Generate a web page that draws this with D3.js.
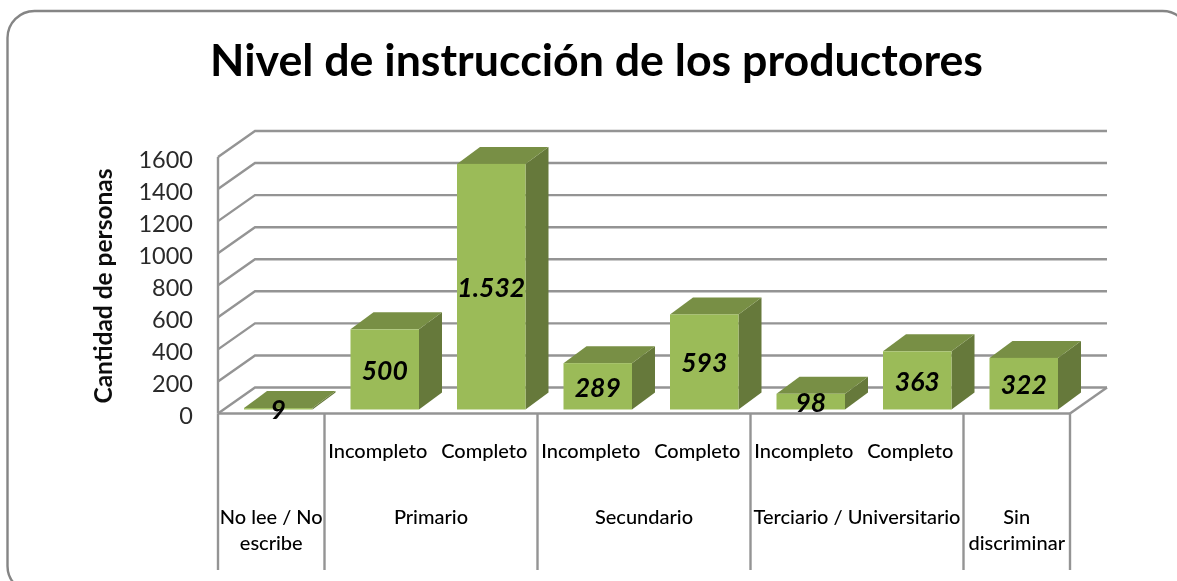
<!DOCTYPE html>
<html><head><meta charset="utf-8">
<script src="https://cdn.jsdelivr.net/npm/d3@7"></script>
<style>html,body{margin:0;padding:0;background:#fff;overflow:hidden}svg{display:block}text{font-family:Lato,"Open Sans",sans-serif}</style>
</head><body><svg id="c" width="1177" height="581"></svg>
<script>
const categories = ["No lee / No escribe","Primario Incompleto","Primario Completo","Secundario Incompleto","Secundario Completo","Terciario Incompleto","Terciario Completo","Sin discriminar"];
const values = [9,500,1532,289,593,98,363,322];
const valueLabels = ["9","500","1.532","289","593","98","363","322"];
const yTicks = [0,200,400,600,800,1000,1200,1400,1600];
const subLabels = [null,"Incompleto","Completo","Incompleto","Completo","Incompleto","Completo",null];
const groupLabels = [
  {from:0,to:0,lines:["No lee / No","escribe"]},
  {from:1,to:2,lines:["Primario"]},
  {from:3,to:4,lines:["Secundario"]},
  {from:5,to:6,lines:["Terciario / Universitario"]},
  {from:7,to:7,lines:["Sin","discriminar"]}
];
const titleText = "Nivel de instrucción de los productores";
const yTitle = "Cantidad de personas";

const svg = d3.select("#c");
const defs = svg.append("defs");
defs.append("filter").attr("id","soft").attr("x","-2%").attr("y","-2%").attr("width","104%").attr("height","104%")
  .append("feGaussianBlur").attr("stdDeviation",0.45);
const root = svg.append("g").attr("filter","url(#soft)");

const grid="#949494";
root.append("rect").attr("x",7.5).attr("y",11).attr("width",1182).attr("height",582).attr("rx",27)
  .attr("fill","#fff").attr("stroke","#858585").attr("stroke-width",2.4);

const x = d3.scaleBand().domain(d3.range(categories.length)).range([218,1070]);
const y = d3.scaleLinear().domain([0,1600]).range([413.5,157]);
const wall = {dx:37,dy:-26}, bar = {dx:23,dy:-17,off:7,base:4,w:68.5};

root.append("text").attr("x",596.5).attr("y",76).attr("text-anchor","middle")
  .attr("font-size",44.7).attr("font-weight",700).attr("fill","#000").text(titleText);

// walls and gridlines
const gridG = root.append("g").attr("fill","none").attr("stroke",grid).attr("stroke-width",2.4);
gridG.selectAll("path").data(yTicks).join("path")
  .attr("d",v=>{const p=d3.path();p.moveTo(x.range()[0],y(v));p.lineTo(x.range()[0]+wall.dx,y(v)+wall.dy);p.lineTo(x.range()[1]+wall.dx,y(v)+wall.dy);return p;});
gridG.append("path").attr("d",()=>{const p=d3.path();const r=x.range()[1],b=y(0);
  p.moveTo(r,b);p.lineTo(r+wall.dx,b+wall.dy);return p;});
gridG.append("line").attr("x1",x.range()[0]).attr("x2",x.range()[0]).attr("y1",y(1600)).attr("y2",y(0));
gridG.append("line").attr("x1",x.range()[0]).attr("x2",x.range()[1]).attr("y1",y(0)).attr("y2",y(0));

// category separators
const seps=[...groupLabels.map(g=>g.from),categories.length];
gridG.selectAll("line.sep").data(seps).join("line").attr("class","sep")
  .attr("x1",i=>i<categories.length?x(i):x.range()[1]).attr("x2",i=>i<categories.length?x(i):x.range()[1])
  .attr("y1",y(0)).attr("y2",570);

// bars
const cx=i=>x(i)+x.bandwidth()/2+bar.off;
const bY=y(0)-bar.base;
const h=v=>y(0)-y(v);
const bars=root.append("g").selectAll("g").data(values).join("g");
bars.append("path").attr("fill","#66793a")
  .attr("d",(v,i)=>{const r=cx(i)+bar.w/2,t=bY-h(v);return `M${r},${t}L${r+bar.dx},${t+bar.dy}L${r+bar.dx},${bY+bar.dy}L${r},${bY}Z`;});
bars.append("path").attr("fill","#788f45")
  .attr("d",(v,i)=>{const l=cx(i)-bar.w/2,r=l+bar.w,t=bY-h(v);return `M${l},${t}L${l+bar.dx},${t+bar.dy}L${r+bar.dx},${t+bar.dy}L${r},${t}Z`;});
bars.append("rect").attr("fill","#9bbb59")
  .attr("x",(v,i)=>cx(i)-bar.w/2).attr("width",bar.w).attr("y",v=>bY-h(v)).attr("height",v=>h(v));

// data labels
root.append("g").selectAll("text").data(values).join("text")
  .attr("x",(v,i)=>cx(i)).attr("y",v=>bY-h(v)/2+1).attr("dy","0.35em").attr("text-anchor","middle")
  .attr("font-size",26.5).attr("font-weight",700).attr("font-style","italic").attr("fill","#000")
  .text((v,i)=>valueLabels[i]);

// y axis
const ax=root.append("g").attr("transform","translate(193,2.5)")
  .call(d3.axisLeft(y).tickValues(yTicks).tickSize(0).tickPadding(0).tickFormat(d3.format("d")));
ax.select(".domain").remove();
ax.selectAll("text").attr("font-size",23.5).attr("fill","#2a2a2a").style("font-family","Lato,sans-serif");

root.append("text").attr("transform","translate(103,286) rotate(-90)").attr("dy","0.35em").attr("text-anchor","middle")
  .attr("font-size",24.5).attr("font-weight",700).attr("fill","#111").text(yTitle);

// category labels
const lab=root.append("g").attr("font-size",20).attr("fill","#000").attr("text-anchor","middle").attr("font-weight",500);
lab.selectAll("text.s").data(subLabels.map((t,i)=>({t,i})).filter(d=>d.t)).join("text").attr("class","s")
  .attr("x",d=>x(d.i)+x.bandwidth()/2).attr("y",451).attr("dy","0.35em").text(d=>d.t);
groupLabels.forEach(g=>{
  const c=(x(g.from)+x(g.to)+x.bandwidth())/2;
  g.lines.forEach((t,k)=>lab.append("text").attr("x",c).attr("y",517+k*26).attr("dy","0.35em").text(t));
});
</script></body></html>
